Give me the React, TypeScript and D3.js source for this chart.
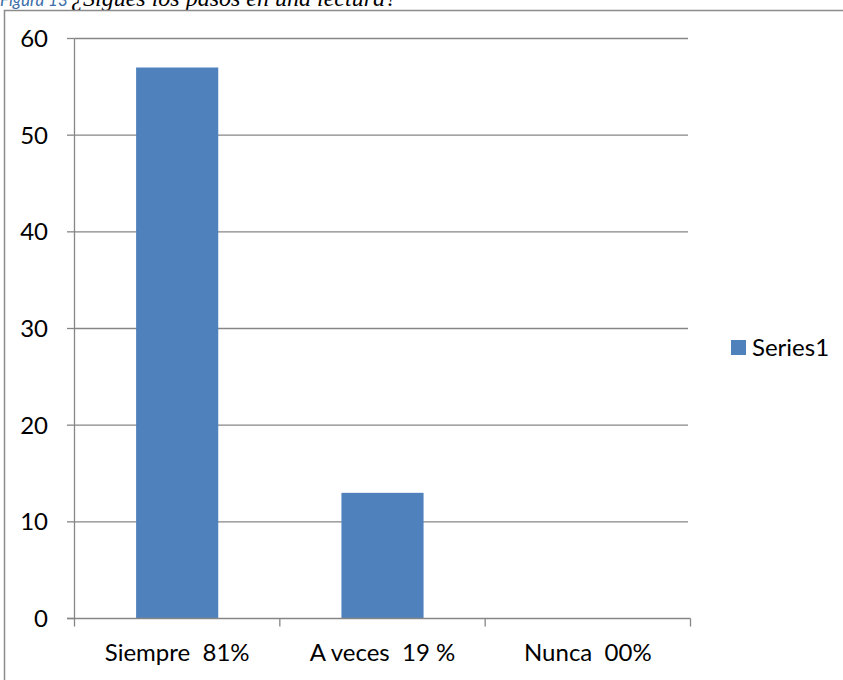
import React from "react";
import * as d3 from "d3";

const categories = ["Siempre  81%", "A veces  19 %", "Nunca  00%"];
const values = [57, 13, 0];
const yTicks = [0, 10, 20, 30, 40, 50, 60];
const seriesName = "Series1";
const figLabel = "Figura 13";
const titleText = "¿Sigues los pasos en una lectura?";

const W = 843;
const H = 680;
const FONT = "Lato, 'Open Sans', sans-serif";
const BAR = "#4F81BD";
const GRID = "#868686";

export default function App() {
  const x = d3.scaleBand<string>().domain(categories).range([74.5, 690.5]).paddingInner(0.6).paddingOuter(0.3);
  const xOuter = d3.scaleBand<string>().domain(categories).range([74.5, 690.5]);
  const y = d3.scaleLinear().domain([0, 60]).range([618.5, 38.5]);
  const boundaries = [...categories.map((c) => xOuter(c) as number), 690.5];

  return (
    <div style={{ position: "absolute", left: 0, top: 0, width: W, height: H, background: "#fff" }}>
      <svg width={W} height={H} style={{ display: "block" }}>
        <rect x={0} y={0} width={W} height={H} fill="#fff" />
        <text x={0} y={6} fill="#3B6EA8" fontFamily={FONT} fontStyle="italic" fontSize={17}>
          {figLabel}
        </text>
        <text x={71} y={6} fill="#000" fontFamily="'Liberation Serif', 'DejaVu Serif', serif" fontStyle="italic" fontSize={24}>
          {titleText}
        </text>
        <rect x={4.5} y={10.5} width={W + 10} height={H + 10} fill="none" stroke="#8c8c8c" strokeWidth={1.5} />
        {yTicks.map((t) => (
          <g key={t}>
            {t > 0 && <line x1={74.5} x2={688} y1={y(t)} y2={y(t)} stroke={GRID} strokeWidth={1.3} />}
            <line x1={67} x2={74.5} y1={y(t)} y2={y(t)} stroke={GRID} strokeWidth={1.3} />
            <text x={48} y={y(t)} dy="0.36em" textAnchor="end" fontFamily={FONT} fontSize={24} fill="#000">
              {t}
            </text>
          </g>
        ))}
        {categories.map((c, i) => (
          <rect key={c} x={x(c)} y={y(values[i])} width={x.bandwidth()} height={y(0) - y(values[i])} fill={BAR} />
        ))}
        <line x1={74.5} x2={74.5} y1={38.5} y2={618.5} stroke={GRID} strokeWidth={1.3} />
        <line x1={67} x2={690.5} y1={618.5} y2={618.5} stroke={GRID} strokeWidth={1.3} />
        {boundaries.map((b, i) => (
          <line key={i} x1={b} x2={b} y1={618.5} y2={626.5} stroke={GRID} strokeWidth={1.3} />
        ))}
        {categories.map((c) => (
          <text
            key={c}
            x={(xOuter(c) as number) + xOuter.bandwidth() / 2}
            y={661}
            textAnchor="middle"
            fontFamily={FONT}
            fontSize={24}
            fill="#000"
            style={{ whiteSpace: "pre" }}
          >
            {c}
          </text>
        ))}
        <rect x={731} y={340} width={15} height={15} fill={BAR} />
        <text x={752} y={355.5} fontFamily={FONT} fontSize={24} fill="#000">
          {seriesName}
        </text>
      </svg>
    </div>
  );
}
